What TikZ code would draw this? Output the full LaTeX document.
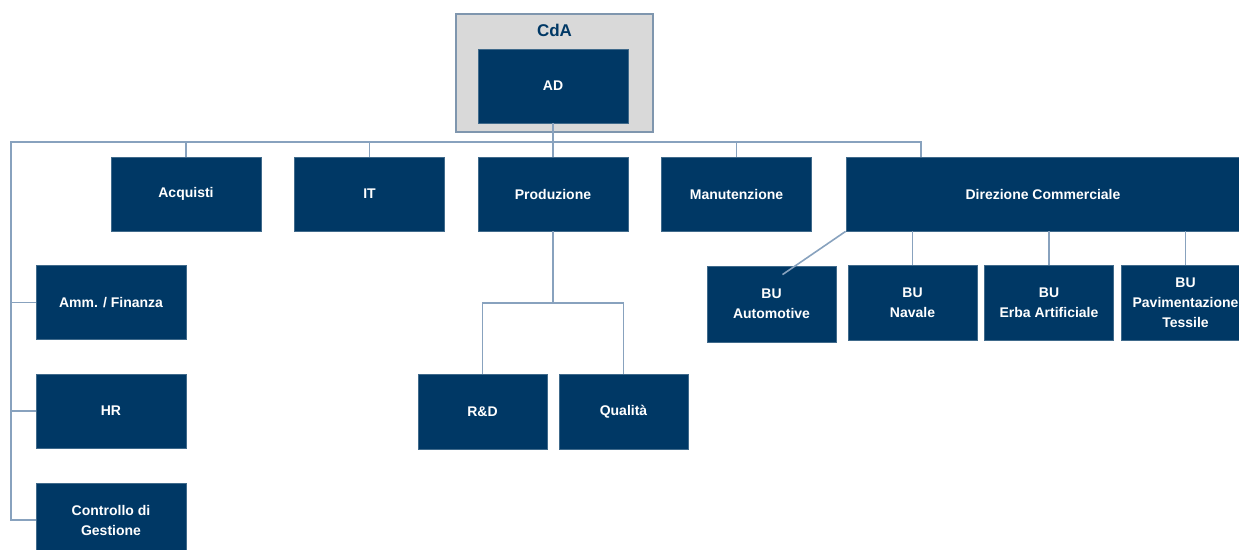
\documentclass[tikz,border=0pt]{standalone}
\usepackage{fontspec}
\setmainfont{Liberation Sans}
\usepackage{xcolor}
\definecolor{cBox}{HTML}{003865}
\definecolor{cLine}{HTML}{88A2BE}
\definecolor{cBoard}{HTML}{D9D9D9}
\definecolor{cBoardLine}{HTML}{7F96AE}
\usepackage{tikz}
\usetikzlibrary{positioning,calc}
\tikzset{
  node-box/.style={draw=cBox!75!white,fill=cBox,text=white,
    minimum width=75pt,minimum height=37pt,inner sep=2pt,align=center,
    font=\fontsize{7}{10}\selectfont\bfseries},
  node-bu/.style={node-box,minimum width=64.5pt,minimum height=37.5pt},
  node-board/.style={draw=cBoardLine,fill=cBoard,semithick,
    minimum width=98.5pt,minimum height=59pt},
  board-title/.style={text=cBox,font=\fontsize{8.5}{10}\selectfont\bfseries},
  link/.style={draw=cLine,line width=0.8pt},
}

\begin{document}
\begin{tikzpicture}[x=0.5pt,y=-0.5pt]
  \useasboundingbox (0,0) rectangle (1239,550);
  % vertice
  \node[node-board,label={[board-title,anchor=center,yshift=-8.5pt]north:CdA}] (cda) at (554.5,73) {};
  \node[node-box] (ad) at (553,86) {AD};
  % prima linea
  \node[node-box] (acq)  at (186,194)   {Acquisti};
  \node[node-box] (it)   at (369.5,194) {IT};
  \node[node-box] (prod) at (553,194)   {Produzione};
  \node[node-box] (man)  at (736.5,194) {Manutenzione};
  \node[node-box,minimum width=197pt] (dc) at (1043,194) {Direzione Commerciale};
  % staff
  \node[node-box] (amm) at (111,302.5) {Amm. / Finanza};
  \node[node-box] (hr)  at (111,411)   {HR};
  \node[node-box] (cdg) at (111,520)   {Controllo di\\Gestione};
  % produzione
  \node[node-bu] (rd)   at (482.5,411.5) {R\&D};
  \node[node-bu] (qual) at (623.5,411.5) {Qualità};
  % business unit
  \node[node-bu,minimum height=38pt] (auto) at (771.5,304) {BU\\Automotive};
  \node[node-bu] (nav)  at (912.5,302.5)  {BU\\Navale};
  \node[node-bu] (erba) at (1049,302.5)   {BU\\Erba Artificiale};
  \node[node-bu] (pav)  at (1185.5,302.5) {BU\\Pavimentazione\\Tessile};

  \coordinate (bus-l) at (11,142);
  \coordinate (bus-r) at (921,142);
  \coordinate (prod-fork) at (553,303);

  \draw[link] (ad.south) -- (prod.north);
  \draw[link] (cdg.west) -| (bus-l) -- (bus-r) -- (bus-r |- dc.north);
  \foreach \n in {amm,hr}
    \draw[link] (\n.west) -- (\n.west -| bus-l);
  \foreach \n in {acq,it,man}
    \draw[link] (\n.north) -- (\n.north |- bus-l);
  \draw[link] (prod.south) -- (prod-fork);
  \draw[link] (rd.north) |- (prod-fork) -| (qual.north);
  \draw[link] (dc.south west) -- ($(auto.north)+(11,9)$);
  \foreach \n in {nav,erba,pav}
    \draw[link] (\n.north) -- (\n.north |- dc.south);
\end{tikzpicture}
\end{document}
